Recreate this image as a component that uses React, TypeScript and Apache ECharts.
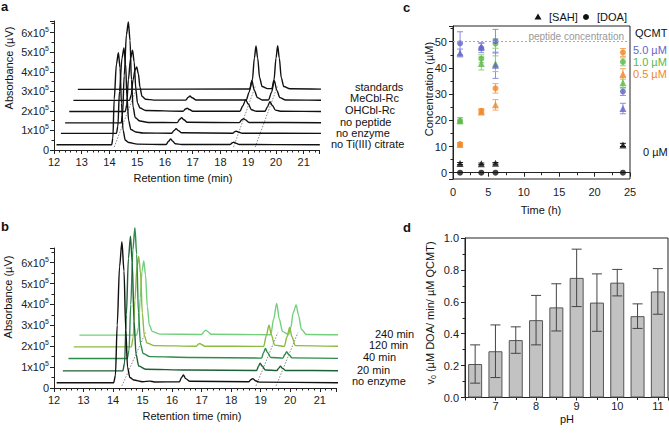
import React, { useEffect, useRef } from 'react';
import * as echarts from 'echarts';

const FONT = '"Liberation Sans", Arial, sans-serif';

// ---------- Panel a: chromatograms (x: min, y: 1e5 µV) ----------
const aLabels = ['no Ti(III) citrate', 'no enzyme', 'no peptide', 'OHCbl-Rc', 'MeCbl-Rc', 'standards'];
const aNoTi = [[12.09,0.27],[14.08,0.27],[14.12,0.6],[14.17,2.6],[14.25,4.4],[14.32,4.98],[14.38,4.2],[14.43,2.4],[14.49,1.0],[14.57,0.5],[14.7,0.38],[15.0,0.3],[16.04,0.28],[16.13,0.45],[16.2,0.57],[16.27,0.46],[16.37,0.32],[16.6,0.28],[18.34,0.28],[18.43,0.37],[18.48,0.4],[18.55,0.35],[18.68,0.28],[21.58,0.27]];
const aNoEnzyme = [[12.25,0.85],[14.25,0.85],[14.3,1.2],[14.36,3.0],[14.45,4.7],[14.52,5.22],[14.58,4.4],[14.63,2.7],[14.69,1.5],[14.77,1.05],[14.95,0.92],[15.2,0.87],[16.24,0.86],[16.33,1.0],[16.4,1.09],[16.48,0.99],[16.6,0.88],[18.44,0.86],[18.52,0.94],[18.57,0.96],[18.64,0.92],[18.78,0.86],[21.72,0.85]];
const aNoPeptide = [[12.4,1.39],[14.42,1.39],[14.47,1.8],[14.53,3.8],[14.61,5.9],[14.68,6.55],[14.74,5.6],[14.79,3.6],[14.85,2.2],[14.93,1.65],[15.1,1.48],[15.4,1.41],[16.44,1.4],[16.53,1.57],[16.6,1.65],[16.68,1.55],[16.8,1.42],[18.68,1.4],[18.77,1.55],[18.83,1.6],[18.9,1.54],[19.03,1.41],[21.86,1.39]];
const aOHCbl = [[12.55,1.97],[14.57,1.97],[14.62,2.3],[14.68,3.6],[14.76,4.7],[14.83,5.1],[14.89,4.5],[14.95,3.1],[15.01,2.4],[15.1,2.15],[15.3,2.02],[16.65,1.98],[16.74,2.1],[16.8,2.14],[16.88,2.07],[17.0,1.98],[18.7,1.98],[18.8,2.25],[18.91,2.57],[19.0,2.35],[19.12,2.06],[19.3,1.98],[19.6,1.98],[19.69,2.2],[19.78,2.47],[19.87,2.28],[19.98,2.04],[20.2,1.98],[22.0,1.97]];
const aMeCbl = [[12.7,2.54],[14.72,2.54],[14.78,2.8],[14.85,3.6],[14.92,4.1],[14.98,4.25],[15.04,3.9],[15.1,3.2],[15.17,2.75],[15.3,2.6],[15.6,2.55],[16.75,2.55],[16.84,2.7],[16.9,2.76],[16.98,2.67],[17.12,2.56],[18.93,2.56],[19.03,2.95],[19.13,3.55],[19.22,3.05],[19.33,2.68],[19.5,2.56],[19.73,2.56],[19.84,2.95],[19.94,3.55],[20.03,3.05],[20.14,2.68],[20.35,2.56],[22.15,2.54]];
const aStandards = [[12.86,3.1],[19.06,3.12],[19.15,3.6],[19.22,4.7],[19.28,5.32],[19.34,4.7],[19.41,3.7],[19.5,3.25],[19.7,3.14],[19.85,3.14],[19.93,3.6],[20.0,4.7],[20.06,5.33],[20.12,4.7],[20.19,3.7],[20.28,3.25],[20.5,3.13],[22.3,3.1]];
const aTraces = [aNoTi, aNoEnzyme, aNoPeptide, aOHCbl, aMeCbl, aStandards];
const aGuides = [[[14.17,0.15],[14.99,3.2]], [[18.47,0.15],[19.25,3.25]], [[19.25,0.15],[20.05,3.25]]];

// ---------- Panel b ----------
const bLabels = ['no enzyme', '20 min', '40 min', '120 min', '240 min'];
const bColors = ['#111111', '#1f5f35', '#2e8c4a', '#8cbb42', '#72d07e'];
const bNoEnzyme = [[12.09,0.25],[14.02,0.25],[14.08,0.6],[14.14,3.0],[14.22,5.8],[14.3,7.0],[14.37,5.6],[14.43,2.8],[14.49,1.0],[14.57,0.5],[14.7,0.38],[15.0,0.3],[15.25,0.33],[15.4,0.29],[16.25,0.3],[16.32,0.5],[16.38,0.62],[16.46,0.45],[16.6,0.32],[18.6,0.3],[18.67,0.4],[18.73,0.45],[18.82,0.35],[18.95,0.28],[21.73,0.25]];
const b20 = [[12.3,0.82],[14.33,0.82],[14.39,1.2],[14.45,3.5],[14.52,6.2],[14.59,7.26],[14.65,6.0],[14.71,3.2],[14.78,1.6],[14.87,1.05],[15.1,0.9],[16.5,0.86],[18.86,0.84],[18.93,1.05],[18.98,1.19],[19.05,1.05],[19.16,0.86],[19.55,0.84],[19.61,0.95],[19.67,1.04],[19.74,0.94],[19.85,0.84],[21.93,0.82]];
const b40 = [[12.49,1.41],[14.48,1.41],[14.54,1.8],[14.6,4.0],[14.67,6.6],[14.74,7.67],[14.8,6.4],[14.86,3.6],[14.93,2.1],[15.02,1.65],[15.25,1.5],[16.7,1.46],[19.03,1.43],[19.1,1.7],[19.16,1.89],[19.23,1.7],[19.34,1.46],[19.75,1.43],[19.82,1.6],[19.88,1.74],[19.95,1.6],[20.06,1.44],[22.07,1.41]];
const b120 = [[12.67,1.97],[14.62,1.97],[14.68,2.4],[14.74,4.2],[14.81,5.8],[14.87,6.3],[14.93,5.5],[14.99,3.6],[15.06,2.5],[15.15,2.15],[15.4,2.03],[16.82,2.0],[16.89,2.1],[16.94,2.13],[17.0,2.08],[17.1,2.0],[19.1,1.99],[19.19,2.5],[19.28,3.01],[19.36,2.55],[19.47,2.05],[19.8,1.99],[19.89,2.45],[19.98,2.9],[20.06,2.45],[20.17,2.03],[22.31,1.97]];
const b240 = [[12.86,2.53],[14.8,2.53],[14.86,2.9],[14.92,4.3],[14.98,5.6],[15.04,6.08],[15.1,5.4],[15.16,3.9],[15.23,3.0],[15.33,2.7],[15.6,2.58],[17.0,2.56],[17.08,2.7],[17.14,2.77],[17.21,2.7],[17.32,2.57],[19.34,2.55],[19.44,3.3],[19.54,4.05],[19.63,3.3],[19.74,2.7],[19.95,2.56],[20.02,2.9],[20.1,3.6],[20.2,3.98],[20.28,3.5],[20.38,2.8],[20.55,2.56],[22.51,2.53]];
const bTraces = [bNoEnzyme, b20, b40, b120, b240];
const bGuides = [[[14.3,0.1],[15.1,2.65]], [[18.84,0.1],[19.58,2.65]], [[19.52,0.1],[20.26,2.65]]];

// ---------- Panel c: concentration vs time ----------
const cTimes = [1, 4, 6, 24];
const cBlueDOA = [49.4, 47.6, 50.2, 31.0];
const cBlueDOAErr = [4.4, 1.8, 4.5, 1.5];
const cBlueSAH = [45.7, 48.1, 41.0, 24.5];
const cBlueSAHErr = [1.5, 1.5, 5.0, 2.0];
const cGreenDOA = [19.8, 43.5, 49.3, 42.3];
const cGreenDOAErr = [1.2, 1.5, 1.8, 1.5];
const cGreenSAH = [20.0, 41.7, 41.6, 34.3];
const cGreenSAHErr = [1.0, 2.5, 3.0, 2.0];
const cOrangeDOA = [10.9, 23.6, 32.2, 45.9];
const cOrangeDOAErr = [0.6, 0.8, 1.8, 1.5];
const cOrangeSAH = [10.8, 23.2, 25.9, 37.7];
const cOrangeSAHErr = [0.5, 0.8, 2.0, 2.0];
const cBlackSAH = [3.5, 3.4, 3.6, 10.6];
const cBlackSAHErr = [0.4, 0.3, 0.3, 0.6];
const cBlackDOA = [0, 0, 0, 0];

// ---------- Panel d: v0 vs pH ----------
const dPH = [6.5, 7, 7.5, 8, 8.5, 9, 9.5, 10, 10.5, 11];
const dV0 = [0.21, 0.29, 0.36, 0.485, 0.565, 0.75, 0.595, 0.72, 0.51, 0.665];
const dErr = [0.12, 0.165, 0.083, 0.155, 0.148, 0.18, 0.18, 0.083, 0.077, 0.143];

const BLUE = '#6464c8';
const GREEN = '#5cb848';
const ORANGE = '#f0872a';

function errBarSeries(xIdx: number, yIdx: number, xs: number[], vals: number[], errs: number[], color: string, cap: number, z = 3) {
  return {
    type: 'custom',
    xAxisIndex: xIdx,
    yAxisIndex: yIdx,
    z,
    encode: { x: 0, y: [1, 2] },
    data: xs.map((x, i) => [x, vals[i] - errs[i], vals[i] + errs[i]]),
    renderItem: (params: any, api: any) => {
      const x = api.value(0);
      const p1 = api.coord([x, api.value(1)]);
      const p2 = api.coord([x, api.value(2)]);
      const st = { stroke: color, lineWidth: 1 };
      return {
        type: 'group',
        children: [
          { type: 'line', shape: { x1: p1[0], y1: p1[1], x2: p2[0], y2: p2[1] }, style: st },
          { type: 'line', shape: { x1: p1[0] - cap, y1: p1[1], x2: p1[0] + cap, y2: p1[1] }, style: st },
          { type: 'line', shape: { x1: p2[0] - cap, y1: p2[1], x2: p2[0] + cap, y2: p2[1] }, style: st },
        ],
      };
    },
  };
}

function scatterSeries(xs: number[], ys: number[], color: string, symbol: string, size: number) {
  return {
    type: 'scatter', xAxisIndex: 2, yAxisIndex: 2, symbol, symbolSize: size, z: 4,
    itemStyle: { color },
    data: xs.map((x, i) => [x, ys[i]]),
  };
}

const axisCommon = {
  axisLine: { lineStyle: { color: '#222', width: 1 } },
  axisTick: { lineStyle: { color: '#222' }, length: 4 },
  minorTick: { show: true, length: 2.5, lineStyle: { color: '#222' } },
  splitLine: { show: false },
  axisLabel: { color: '#222', fontSize: 11, fontFamily: FONT },
};

const supFormatter = (v: number) => (v === 0 ? '0' : `{m|${v}x10}{s|5}`);
const supRich = {
  m: { fontSize: 11, fontFamily: FONT, color: '#222', lineHeight: 14 },
  s: { fontSize: 7, fontFamily: FONT, color: '#222', verticalAlign: 'top', lineHeight: 14 },
};

export default function App() {
  const ref = useRef<HTMLDivElement>(null);
  useEffect(() => {
    document.body.style.margin = '0';
    const chart = echarts.init(ref.current!, null, { renderer: 'svg' });
    const series: any[] = [];

    aGuides.forEach((g) => series.push({ type: 'line', xAxisIndex: 0, yAxisIndex: 0, data: g, showSymbol: false, silent: true, clip: false, z: 1, lineStyle: { color: '#888', width: 1, type: [1.5, 1.5] } }));
    for (let i = aTraces.length - 1; i >= 0; i--) {
      series.push({ type: 'line', xAxisIndex: 0, yAxisIndex: 0, data: aTraces[i], showSymbol: false, clip: false, smooth: 0.3, smoothMonotone: 'x', z: 2, lineStyle: { color: '#111', width: 1.4 } });
    }
    bGuides.forEach((g) => series.push({ type: 'line', xAxisIndex: 1, yAxisIndex: 1, data: g, showSymbol: false, silent: true, clip: false, z: 1, lineStyle: { color: '#888', width: 1, type: [1.5, 1.5] } }));
    for (let i = bTraces.length - 1; i >= 0; i--) {
      series.push({ type: 'line', xAxisIndex: 1, yAxisIndex: 1, data: bTraces[i], showSymbol: false, clip: false, smooth: 0.3, smoothMonotone: 'x', z: 2, lineStyle: { color: bColors[i], width: 1.4 } });
    }

    // panel c
    series.push({
      type: 'line', xAxisIndex: 2, yAxisIndex: 2, data: [], markLine: {
        silent: true, symbol: 'none', label: { show: false },
        lineStyle: { color: '#aaa', type: [2, 2], width: 1 }, data: [{ yAxis: 50 }],
      },
    });
    series.push(errBarSeries(2, 2, cTimes, cBlueDOA, cBlueDOAErr, '#8c8cdc', 3));
    series.push(errBarSeries(2, 2, cTimes, cBlueSAH, cBlueSAHErr, '#8c8cdc', 3));
    series.push(errBarSeries(2, 2, cTimes, cGreenDOA, cGreenDOAErr, '#8fd07e', 3));
    series.push(errBarSeries(2, 2, cTimes, cGreenSAH, cGreenSAHErr, '#8fd07e', 3));
    series.push(errBarSeries(2, 2, cTimes, cOrangeDOA, cOrangeDOAErr, '#f4a860', 3));
    series.push(errBarSeries(2, 2, cTimes, cOrangeSAH, cOrangeSAHErr, '#f4a860', 3));
    series.push(errBarSeries(2, 2, cTimes, cBlackSAH, cBlackSAHErr, '#222', 3));
    series.push(scatterSeries(cTimes, cBlackDOA, '#111', 'circle', 6));
    series.push(scatterSeries(cTimes, cBlackSAH, '#111', 'triangle', 7));
    series.push(scatterSeries(cTimes, cOrangeSAH, ORANGE, 'triangle', 7));
    series.push(scatterSeries(cTimes, cOrangeDOA, ORANGE, 'circle', 6));
    series.push(scatterSeries(cTimes, cGreenSAH, GREEN, 'triangle', 7));
    series.push(scatterSeries(cTimes, cGreenDOA, GREEN, 'circle', 6));
    series.push(scatterSeries(cTimes, cBlueSAH, BLUE, 'triangle', 7));
    series.push(scatterSeries(cTimes, cBlueDOA, BLUE, 'circle', 6));

    // panel d
    series.push({
      type: 'bar', xAxisIndex: 3, yAxisIndex: 3, barWidth: 14, z: 2,
      itemStyle: { color: '#c2c2c2', borderColor: '#555', borderWidth: 1 },
      data: dPH.map((p, i) => [p, dV0[i]]),
    });
    series.push(errBarSeries(3, 3, dPH, dV0, dErr, '#444', 5, 5));

    const txt = (x: number, y: number, text: string, extra: any = {}) => ({
      type: 'text', x, y, silent: true,
      style: { text, fill: '#111', font: `11px ${FONT}`, textVerticalAlign: 'middle', ...extra },
    });

    const graphics: any[] = [
      txt(1, 6, 'a', { font: `bold 13px ${FONT}` }),
      txt(1, 226, 'b', { font: `bold 13px ${FONT}` }),
      txt(403, 7, 'c', { font: `bold 13px ${FONT}` }),
      txt(403, 227, 'd', { font: `bold 13px ${FONT}` }),
      { type: 'text', x: 9, y: 68, rotation: Math.PI / 2, silent: true, style: { text: 'Absorbance (µV)', fill: '#111', font: `11px ${FONT}`, textAlign: 'center', textVerticalAlign: 'middle' } },
      { type: 'text', x: 8, y: 297, rotation: Math.PI / 2, silent: true, style: { text: 'Absorbance (µV)', fill: '#111', font: `11px ${FONT}`, textAlign: 'center', textVerticalAlign: 'middle' } },
      { type: 'text', x: 429, y: 89, rotation: Math.PI / 2, silent: true, style: { text: 'Concentration (µM)', fill: '#111', font: `11px ${FONT}`, textAlign: 'center', textVerticalAlign: 'middle' } },
      {
        type: 'text', x: 430, y: 313, rotation: Math.PI / 2, silent: true,
        style: {
          text: '{m|v}{s|0}{m| (µM DOA/ min/ µM QCMT)}', textAlign: 'center', textVerticalAlign: 'middle',
          rich: {
            m: { fontSize: 11, fontFamily: FONT, fill: '#111', lineHeight: 14 },
            s: { fontSize: 7, fontFamily: FONT, fill: '#111', verticalAlign: 'bottom', lineHeight: 14 },
          },
        },
      },
      txt(183, 178, 'Retention time (min)', { textAlign: 'center' }),
      txt(192, 416, 'Retention time (min)', { textAlign: 'center' }),
      txt(541, 210, 'Time (h)', { textAlign: 'center' }),
      txt(567, 419, 'pH', { textAlign: 'center' }),
      // panel a trace labels
      txt(331, 143.5, aLabels[0]),
      txt(336, 133, aLabels[1]),
      txt(340, 122, aLabels[2]),
      txt(345, 110, aLabels[3]),
      txt(350, 98, aLabels[4]),
      txt(355, 87, aLabels[5]),
      // panel b trace labels
      txt(352, 381, bLabels[0]),
      txt(357, 369.5, bLabels[1]),
      txt(363, 357, bLabels[2]),
      txt(369, 345, bLabels[3]),
      txt(375, 333.5, bLabels[4]),
      // panel c legend/annotations
      { type: 'polygon', silent: true, shape: { points: [[538, 13.5], [541.5, 19.5], [534.5, 19.5]] }, style: { fill: '#111' } },
      txt(549, 17, '[SAH]'),
      { type: 'circle', silent: true, shape: { cx: 586, cy: 17, r: 3 }, style: { fill: '#111' } },
      txt(597, 17, '[DOA]'),
      txt(624, 36, 'peptide concentration', { textAlign: 'right', fill: '#999', font: `10px ${FONT}` }),
      txt(635, 33, 'QCMT'),
      txt(633, 49.5, '5.0 µM', { fill: BLUE }),
      txt(633, 61.8, '1.0 µM', { fill: GREEN }),
      txt(633, 74, '0.5 µM', { fill: ORANGE }),
      txt(643, 152, '0 µM'),
    ];

    const option: any = {
      animation: false,
      grid: [
        { left: 54, top: 21, width: 265, height: 129 },
        { left: 54, top: 248, width: 282, height: 140 },
        { left: 453, top: 26, width: 177, height: 153, show: true, borderColor: '#222', borderWidth: 1 },
        { left: 465, top: 238, width: 203, height: 159.5, show: true, borderColor: '#222', borderWidth: 1 },
      ],
      xAxis: [
        { ...axisCommon, type: 'value', gridIndex: 0, min: 12, max: 21.55, interval: 1, minorTick: { ...axisCommon.minorTick, splitNumber: 5 }, axisLabel: { ...axisCommon.axisLabel, showMaxLabel: false, margin: 6 } },
        { ...axisCommon, type: 'value', gridIndex: 1, min: 12, max: 21.55, interval: 1, minorTick: { ...axisCommon.minorTick, splitNumber: 5 }, axisLabel: { ...axisCommon.axisLabel, showMaxLabel: false, margin: 6 } },
        { ...axisCommon, type: 'value', gridIndex: 2, min: 0, max: 25, interval: 5, minorTick: { ...axisCommon.minorTick, splitNumber: 2 }, axisLabel: { ...axisCommon.axisLabel, margin: 7 } },
        { ...axisCommon, type: 'value', gridIndex: 3, min: 6.25, max: 11.25, splitNumber: 5, axisTick: { ...axisCommon.axisTick, length: 3 }, minorTick: { ...axisCommon.minorTick, splitNumber: 2 }, axisLabel: { ...axisCommon.axisLabel, showMinLabel: false, showMaxLabel: false, margin: 3 } },
      ],
      yAxis: [
        { ...axisCommon, type: 'value', gridIndex: 0, min: 0, max: 6.6, interval: 1, minorTick: { ...axisCommon.minorTick, splitNumber: 2 }, axisLabel: { ...axisCommon.axisLabel, showMaxLabel: false, margin: 5, formatter: supFormatter, rich: supRich } },
        { ...axisCommon, type: 'value', gridIndex: 1, min: 0, max: 6.7, interval: 1, minorTick: { ...axisCommon.minorTick, splitNumber: 2 }, axisLabel: { ...axisCommon.axisLabel, showMaxLabel: false, margin: 5, formatter: supFormatter, rich: supRich } },
        { ...axisCommon, type: 'value', gridIndex: 2, min: -2.4, max: 56, splitNumber: 5, minorTick: { ...axisCommon.minorTick, splitNumber: 2 }, axisLabel: { ...axisCommon.axisLabel, showMinLabel: false, showMaxLabel: false, margin: 6 } },
        { ...axisCommon, type: 'value', gridIndex: 3, min: 0, max: 1, interval: 0.2, minorTick: { ...axisCommon.minorTick, splitNumber: 2 }, axisLabel: { ...axisCommon.axisLabel, margin: 6, formatter: (v: number) => v.toFixed(1) } },
      ],
      series,
      graphic: graphics,
    };
    chart.setOption(option);
    return () => chart.dispose();
  }, []);
  return <div ref={ref} style={{ width: 669, height: 433 }} />;
}
